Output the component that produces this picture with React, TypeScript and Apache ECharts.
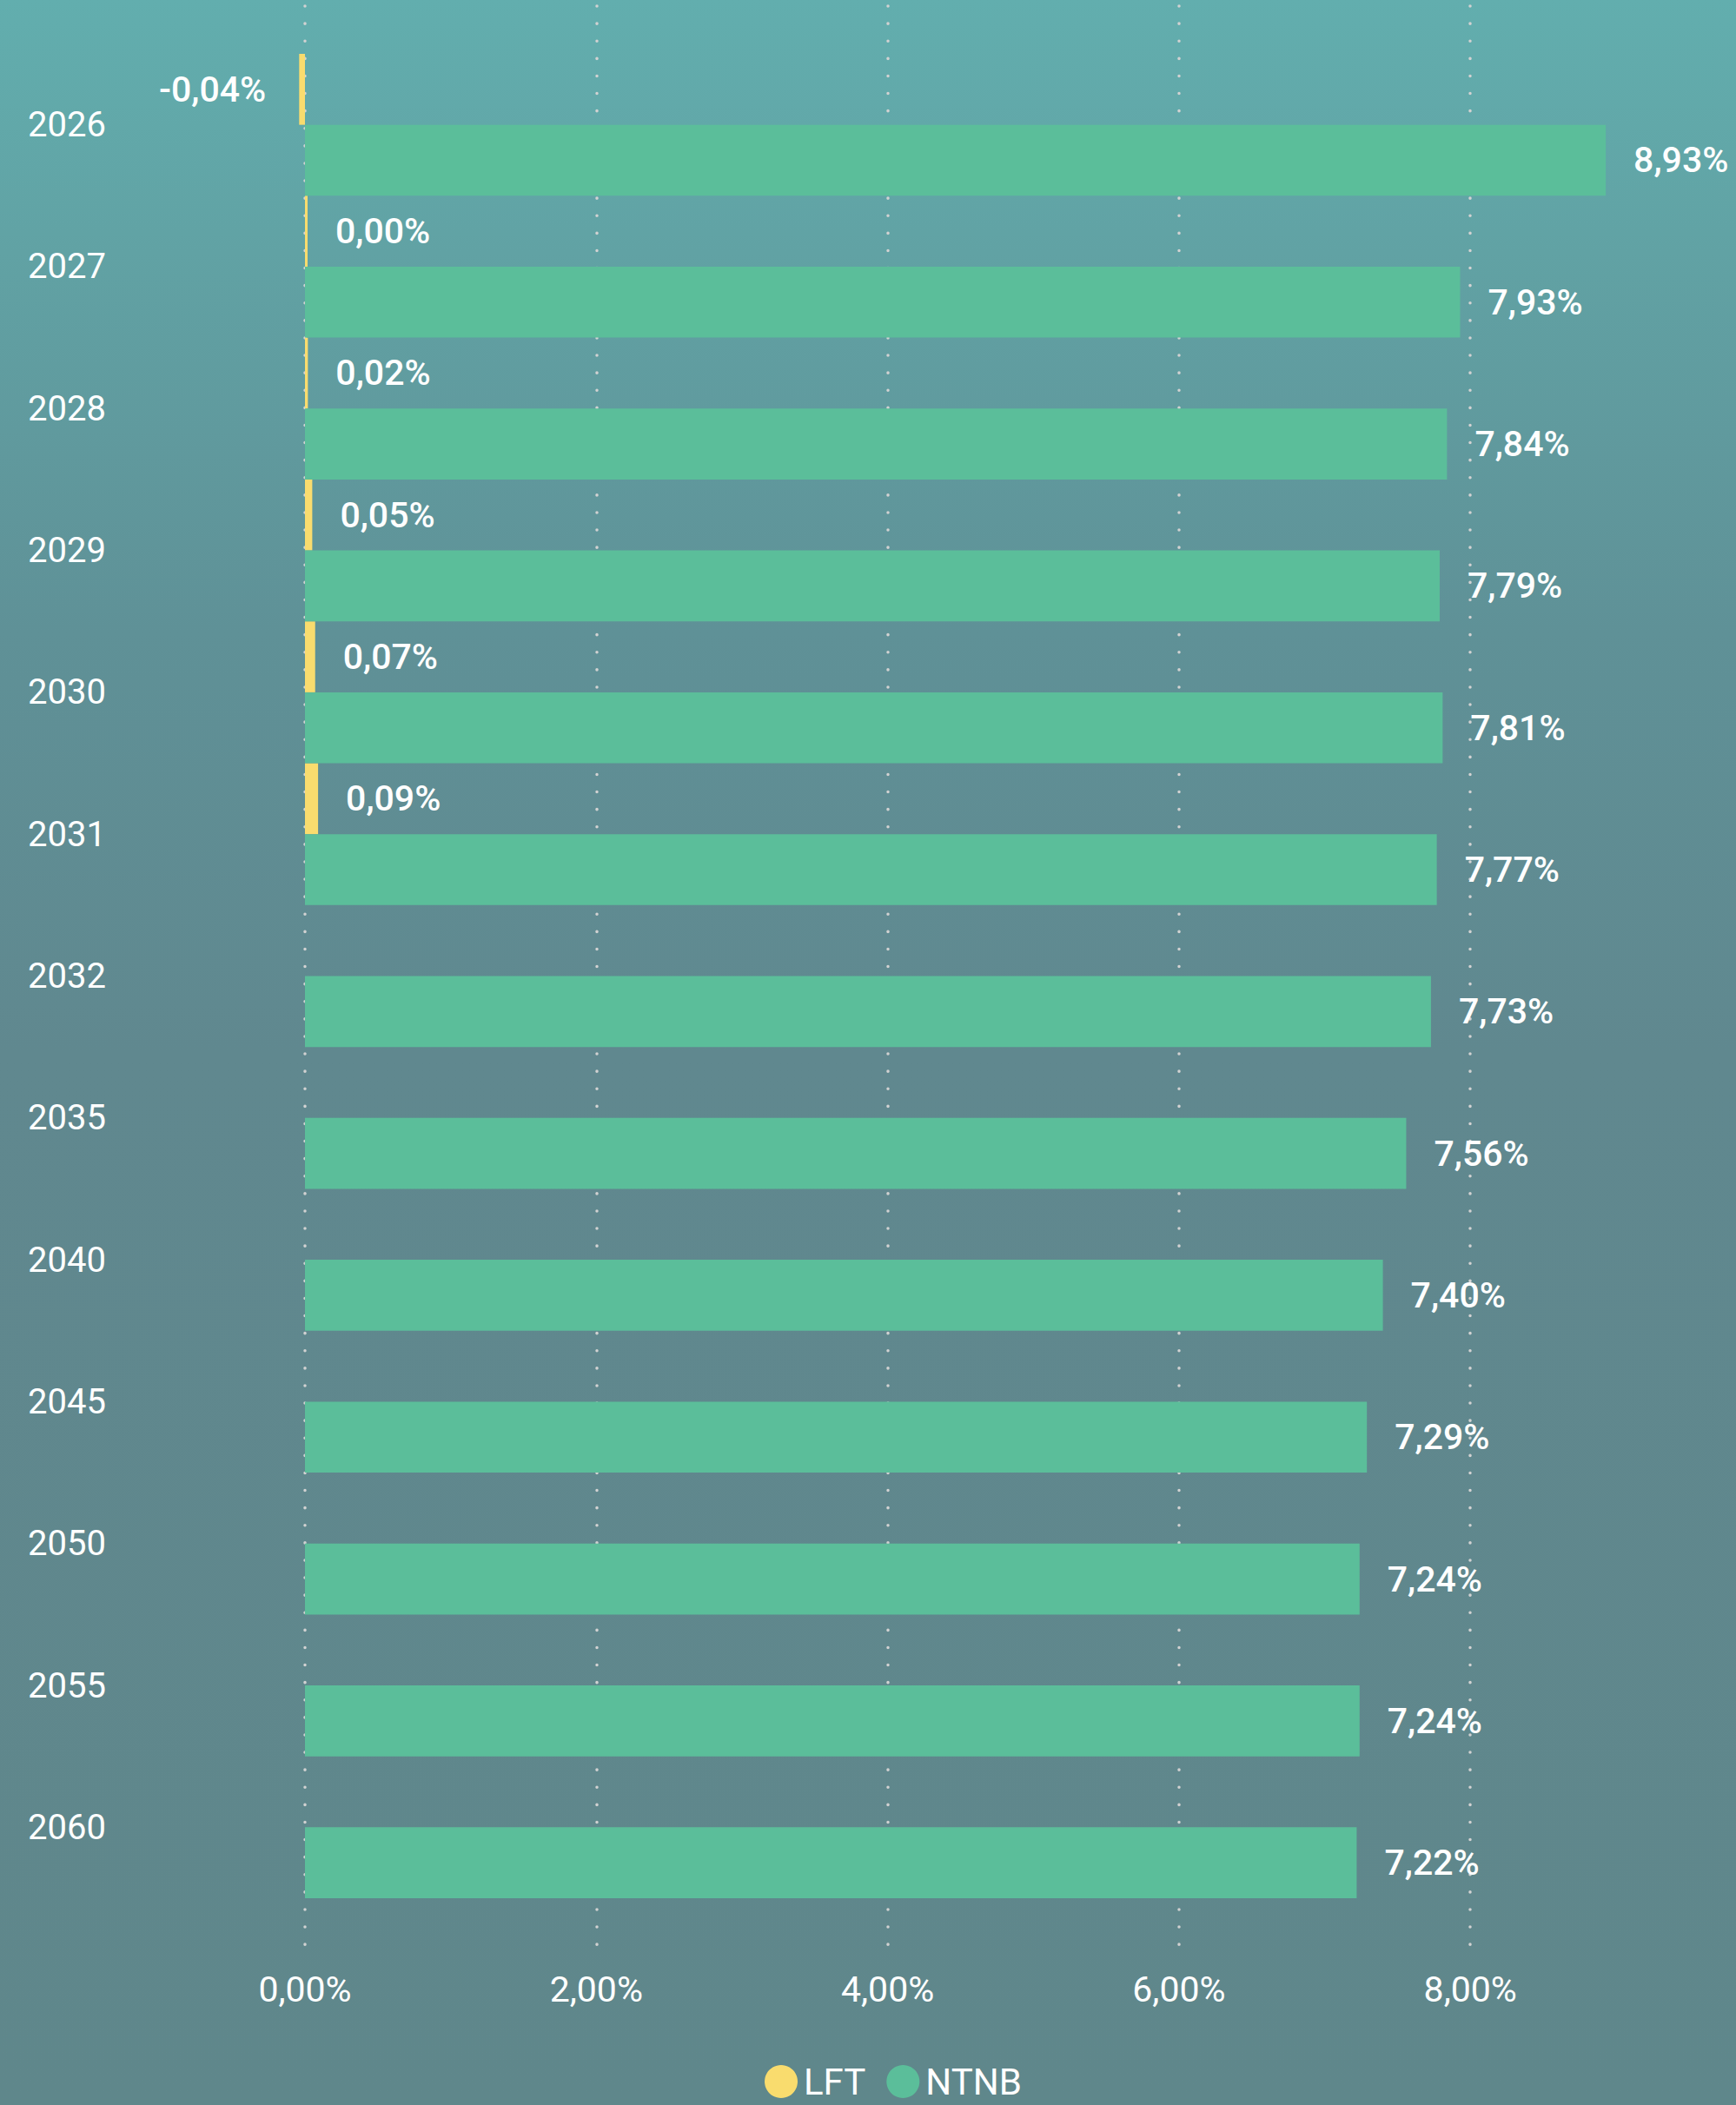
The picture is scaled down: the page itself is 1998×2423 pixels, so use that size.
import React, { useEffect, useRef } from "react";
import * as echarts from "echarts";

const categories = ["2026", "2027", "2028", "2029", "2030", "2031", "2032", "2035", "2040", "2045", "2050", "2055", "2060"];
const lftValues: (number | null)[] = [-0.04, 0.0, 0.02, 0.05, 0.07, 0.09, null, null, null, null, null, null, null];
const ntnbValues: number[] = [8.93, 7.93, 7.84, 7.79, 7.81, 7.77, 7.73, 7.56, 7.4, 7.29, 7.24, 7.24, 7.22];
const xTicks = [0, 2, 4, 6, 8];

const FONT = "Roboto, 'Noto Sans', sans-serif";
const fmt = (v: number) => v.toFixed(2).replace(".", ",") + "%";

export default function App() {
  const ref = useRef<HTMLDivElement>(null);
  useEffect(() => {
    if (!ref.current) return;
    const chart = echarts.init(ref.current, null, { renderer: "svg" });
    const PX = 167.65; // pixels per 1%
    const ZERO_X = 351;
    const MAX = 9.5;
    const BAR_MIN = -0.1;
    const BAR_LEFT = ZERO_X + BAR_MIN * PX;
    chart.setOption({
      animation: false,
      backgroundColor: {
        type: "linear",
        x: 0, y: 0, x2: 0, y2: 1,
        colorStops: [
          { offset: 0, color: "#62aeae" },
          { offset: 0.12, color: "#61a2a4" },
          { offset: 0.3, color: "#5f9197" },
          { offset: 0.5, color: "#60888f" },
          { offset: 1, color: "#5f878b" },
        ],
      },
      legend: {
        data: ["LFT", "NTNB"],
        left: 880,
        top: 2375,
        padding: 0,
        itemWidth: 38,
        itemHeight: 38,
        itemGap: 24,
        icon: "circle",
        textStyle: { color: "#ffffff", fontSize: 42, lineHeight: 40, fontFamily: FONT, padding: [0, 0, 0, 2] },
      },
      grid: [
        { left: ZERO_X, width: MAX * PX, top: 7, bottom: 172 },
        { left: BAR_LEFT, width: (MAX - BAR_MIN) * PX, top: 62, height: 2123 },
      ],
      xAxis: [
        {
          gridIndex: 0,
          type: "value",
          min: 0,
          max: MAX,
          interval: 2,
          axisLine: { show: false },
          axisTick: { show: false },
          splitLine: {
            show: true,
            showMaxLine: false,
            lineStyle: { color: "#d2d2d2", width: 3.5, type: [0.1, 20], cap: "round" },
          },
          axisLabel: {
            color: "#ffffff",
            fontSize: 41,
            fontFamily: FONT,
            margin: 18,
            showMaxLabel: false,
            formatter: (v: number) => (xTicks.includes(v) ? fmt(v) : ""),
          },
        },
        {
          gridIndex: 1,
          type: "value",
          min: BAR_MIN,
          max: MAX,
          show: false,
          splitLine: { show: false },
        },
      ],
      yAxis: [
        { gridIndex: 0, type: "value", show: false, splitLine: { show: false } },
        {
          gridIndex: 1,
          type: "category",
          data: categories,
          inverse: true,
          axisLine: { show: false },
          axisTick: { show: false },
          splitLine: { show: false },
          axisLabel: {
            color: "#ffffff",
            fontSize: 40,
            fontFamily: FONT,
            align: "left",
            margin: BAR_LEFT - 32,
          },
        },
      ],
      series: [
        {
          name: "LFT",
          type: "bar",
          xAxisIndex: 1,
          yAxisIndex: 1,
          barGap: "0%",
          barCategoryGap: "0%",
          barMinHeight: 3,
          itemStyle: { color: "#f9dc6e" },
          label: {
            show: true,
            position: "right",
            distance: 32,
            color: "#ffffff",
            fontSize: 41,
            fontWeight: 500,
            fontFamily: FONT,
            formatter: (p: any) => fmt(p.value),
          },
          data: lftValues.map((v) =>
            v === null
              ? null
              : v < 0
              ? { value: v, label: { position: "left", distance: 38 } }
              : v
          ),
        },
        {
          name: "NTNB",
          type: "bar",
          xAxisIndex: 1,
          yAxisIndex: 1,
          barGap: "0%",
          barCategoryGap: "0%",
          itemStyle: { color: "#5bbe9a" },
          label: {
            show: true,
            position: "right",
            distance: 32,
            color: "#ffffff",
            fontSize: 41,
            fontWeight: 500,
            fontFamily: FONT,
            formatter: (p: any) => fmt(p.value),
          },
          data: ntnbValues,
        },
      ],
    });
    return () => chart.dispose();
  }, []);
  return (
    <div
      ref={ref}
      style={{ position: "absolute", left: 0, top: 0, width: 1998, height: 2423 }}
    />
  );
}
